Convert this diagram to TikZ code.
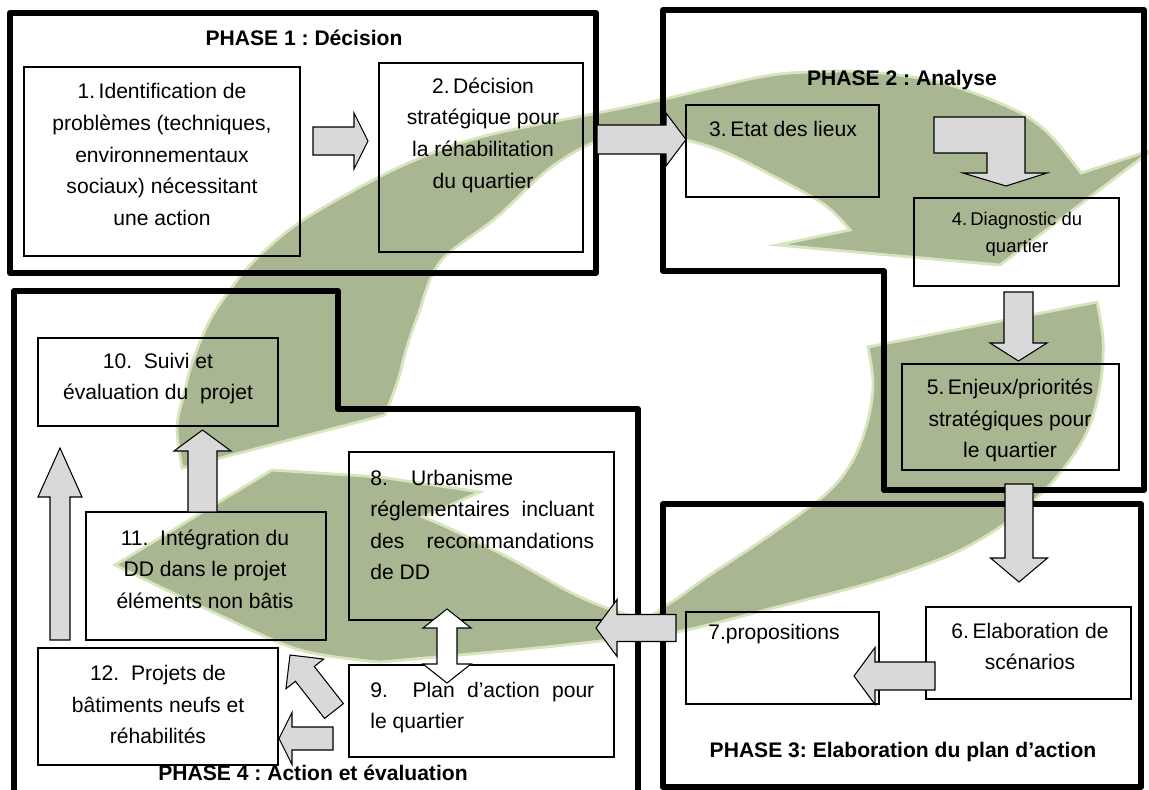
\documentclass[tikz,border=0pt]{standalone}
\usepackage{fontspec}
\setmainfont{Liberation Sans}
\usepackage{xcolor}
\usepackage{tikz}
\usetikzlibrary{calc,positioning,fit}
\setlength{\parindent}{0pt}
\frenchspacing
\definecolor{leaf}{HTML}{A9B692}
\definecolor{leafedge}{HTML}{D8E4BE}
\definecolor{arrowgray}{HTML}{D9D9D9}
\newcommand{\pxl}{0.5691pt}
\newcommand{\blockarrow}[6][]{%
  \coordinate (ba-head) at ($(#3)!{#6*\pxl}!(#2)$);
  \draw[barrow,#1] ($(#2)!{#4*\pxl}!90:(#3)$) -- ($(ba-head)!{#4*\pxl}!90:(#3)$)
    -- ($(ba-head)!{#5*\pxl}!90:(#3)$) -- (#3) -- ($(ba-head)!{#5*\pxl}!-90:(#3)$)
    -- ($(ba-head)!{#4*\pxl}!-90:(#3)$) -- ($(#2)!{#4*\pxl}!-90:(#3)$) -- cycle;}

\begin{document}
\begin{tikzpicture}[x=0.02cm,y=-0.02cm,
	phase/.style={line width=3.4pt,line join=round},
	box/.style={draw,line width=0.75pt,inner sep=0pt},
	txt/.style={align=center,font=\fontsize{12}{18}\selectfont,inner sep=0pt},
	jtxt/.style={text width=4.48cm,align=justify,font=\fontsize{12}{18}\selectfont,inner sep=0pt,anchor=west},
	ttl/.style={font=\bfseries\fontsize{12}{14}\selectfont,inner sep=0pt},
	barrow/.style={draw,line width=0.6pt,fill=arrowgray,line join=miter},
	leafshape/.style={fill=leaf,draw=leafedge,line width=1.6pt}]
		\useasboundingbox (0,0) rectangle (1149,789);
		\filldraw[leafshape] plot[smooth,tension=0.55] coordinates {(385,415) (398,380) (406,350) (418,315) (440,262) (497,217) (550,168) (600,140) (650,133) (687,140) (727,153) (777,178) (825,205) (850,230)}
			-- (777,245) -- (1000,265) -- (1152,150) -- (1081,173)
			-- plot[smooth,tension=0.55] coordinates {(1081,173) (1050,135) (1015,110) (943,83) (870,72) (810,72) (760,77) (660,100) (597,113) (497,133) (440,150) (379,177) (300,222) (253,262) (230,290) (210,320) (193,360) (185,390) (177,427) (182,468)}
			-- cycle;
		\filldraw[leafshape] (868,347) -- plot[smooth,tension=0.55] coordinates {(1097,302) (1103,340) (1101,380) (1090,425) (1070,460) (1040,495) (1000,527) (950,555) (873,582) (773,608) (677,632) (600,641) (536,648) (459,655) (380,662)}
			-- plot[smooth,tension=0.55] coordinates {(380,662) (300,650) (215,613) (115,565)}
			-- (272,470) -- (380,477) -- (480,492) -- (423,517)
			-- plot[smooth,tension=0.55] coordinates {(423,517) (453,530) (513,560) (580,597) (640,617) (670,603) (707,577) (773,533) (827,493) (853,460) (868,420) (873,383) (868,347)}
			-- cycle;
		\draw[phase] (10,13) rectangle (596,273);
		\draw[phase] (663,271) -- (663,10) -- (1144,10) -- (1144,490) -- (884,490) -- (884,271) -- cycle;
		\draw[phase] (663,504) rectangle (1141,787);
		\draw[phase] (14,795) -- (14,291) -- (338,291) -- (338,409) -- (638,409) -- (638,795);
		\node[box,fit={(24,67) (300,256)}] (n1) {};
		\node[box,fit={(379,63) (583,252)}] (n2) {};
		\node[box,fit={(686,105) (879,197)}] (n3) {};
		\node[box,fit={(914,198) (1119,286)}] (n4) {};
		\node[box,fit={(902,364) (1119,470)}] (n5) {};
		\node[box,fit={(926,607) (1131,699)}] (n6) {};
		\node[box,fit={(686,612) (879,704)}] (n7) {};
		\node[box,fit={(349,452) (614,620)}] (n8) {};
		\node[box,fit={(349,665) (614,757)}] (n9) {};
		\node[box,fit={(38,338) (278,426)}] (n10) {};
		\node[box,fit={(86,512) (326,640)}] (n11) {};
		\node[box,fit={(38,648) (278,765)}] (n12) {};
			\node[ttl] (p1) at (304,38) {PHASE 1 : Décision};
			\node[ttl] (p2) at (902,80) {PHASE 2 : Analyse};
			\node[ttl] (p3) at (903,752) {PHASE 3: Elaboration du plan d’action};
			\node[ttl] (p4) at (313,773) {PHASE 4 : Action et évaluation};
			\node[txt] (t1) at (162,154.5) {1.\,Identification de\\problèmes (techniques,\\environnementaux\\sociaux) nécessitant\\une action};
			\node[txt] (t2) at (483,135) {2.\,Décision\\stratégique pour\\la réhabilitation\\du quartier};
			\node[txt] (t3) at (783,129) {3.\,Etat des lieux};
			\node[txt,font=\fontsize{10.5}{15.3}\selectfont] (t4) at (1017,234.5) {4.\,Diagnostic du\\quartier};
			\node[txt] (t5) at (1010,420.5) {5.\,Enjeux/priorités\\stratégiques pour\\le quartier};
			\node[txt] (t6) at (1030,646.5) {6.\,Elaboration de\\scénarios};
			\node[txt] (t7) at (774,634) {7.propositions};
			\node[jtxt] (t8) at (370,525) {8.\hspace{1.1em}Urbanisme\par réglementaires incluant\linebreak des recommandations\linebreak de DD};
			\node[jtxt] (t9) at (370,707.5) {9.\ \ Plan d’action pour\linebreak le quartier};
			\node[txt] (t10) at (158,378.5) {10.\ \ Suivi et\\évaluation du\ \ projet};
			\node[txt] (t11) at (205,569) {11.\ \ Intégration du\\DD dans le projet\\éléments non bâtis};
			\node[txt] (t12) at (158,704.5) {12.\ \ Projets de\\bâtiments neufs et\\réhabilités};
		\blockarrow{313,141}{368,141}{14}{28}{14}
		\blockarrow{597,139.5}{686,139.5}{14.5}{26.5}{20}
		\draw[barrow] (934,117) -- (1025,117) -- (1025,173) -- (1047,173) -- (1006,186) -- (963,173) -- (987,173) -- (987,153) -- (934,153) -- cycle;
		\blockarrow{1018.5,292}{1018.5,361}{14.5}{28.5}{18}
		\blockarrow{1019,484}{1019,582}{14}{28.5}{24}
		\blockarrow{935,676}{854,676}{14}{28.5}{21}
		\blockarrow{676,628}{596,628}{13.5}{28.5}{21}
		\draw[barrow,fill=white] (447,609) -- (471,628) -- (457,628) -- (457,664) -- (471,664) -- (447,683) -- (423,664) -- (437,664) -- (437,628) -- (423,628) -- cycle;
		\blockarrow{333,738.5}{279,738.5}{11.5}{26}{13}
		\blockarrow{334,711}{290,655}{12}{24}{24}
		\blockarrow{202.5,512}{202.5,430}{14.5}{28.5}{21}
		\blockarrow{60,640}{60,448}{10}{22}{49}
	\end{tikzpicture}
\end{document}
